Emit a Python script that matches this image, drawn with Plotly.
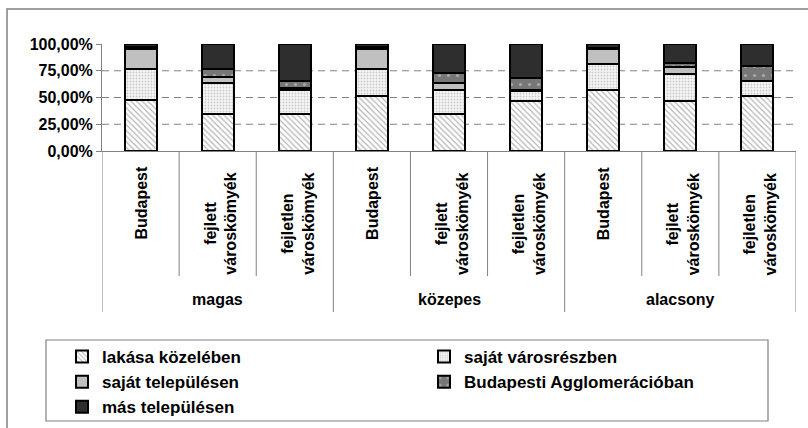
import plotly.graph_objects as go

# ---------------- data ----------------
groups = ["magas", "közepes", "alacsony"]
subcats = ["Budapest", "fejlett<br>városkömyék", "fejletlen<br>városkömyék"]
series_names = ["lakása közelében", "saját városrészben", "saját településen",
                "Budapesti Agglomerációban", "más településen"]

lakasa_kozeleben = [47.4, 35.0, 35.0, 51.4, 35.0, 46.4, 57.4, 46.4, 51.1]
sajat_varosresz  = [29.2, 29.0, 21.7, 25.2, 22.4,  9.8, 24.3, 25.3, 14.0]
sajat_telepules  = [19.1,  5.1,  2.6, 19.1,  6.5,  0.5, 13.4,  6.8,  0.5]
bp_agglomeracio  = [ 1.5,  7.3,  5.8,  1.5,  9.4, 11.5,  1.5,  3.7, 13.6]
mas_telepules    = [ 2.8, 23.6, 34.9,  2.8, 26.7, 31.8,  3.4, 17.8, 20.8]

y_tick_vals = [0, 25, 50, 75, 100]
y_tick_text = ["0,00%", "25,00%", "50,00%", "75,00%", "100,00%"]
grid_vals = [25, 50, 75]

series_values = [lakasa_kozeleben, sajat_varosresz, sajat_telepules,
                 bp_agglomeracio, mas_telepules]

# ---------------- styles ----------------
W, H = 808, 428
FONT = "Arial, Liberation Sans, sans-serif"
GRAY = "#808080"

styles = [
    dict(color="white", pattern=dict(shape="\\", fgcolor="#6a6a6a", bgcolor="white",
                                     size=4, solidity=0.3, fillmode="overlay")),
    dict(color="white", pattern=dict(shape=".", fgcolor="#9a9a9a", bgcolor="#f6f6f6",
                                     size=3, solidity=0.3, fillmode="overlay")),
    dict(color="#c0c0c0"),
    dict(color="#777777", pattern=dict(shape=".", fgcolor="#d8d8d8", bgcolor="#777777",
                                       size=9, solidity=0.1, fillmode="overlay")),
    dict(color="#2e2e2e"),
]

def px_x(v):
    return v / W

def px_y(v):
    return 1 - v / H

n = len(groups) * len(subcats)
xs = list(range(n))

fig = go.Figure()
for name, vals, st in zip(series_names, series_values, styles):
    marker = dict(color=st["color"], line=dict(color="black", width=2))
    if "pattern" in st:
        marker["pattern"] = st["pattern"]
    fig.add_trace(go.Bar(x=xs, y=vals, name=name, marker=marker))

shapes = []
# dashed gridlines
for g in grid_vals:
    shapes.append(dict(type="line", xref="paper", yref="y", x0=px_x(102), x1=px_x(796),
                       y0=g, y1=g, layer="below",
                       line=dict(color=GRAY, width=1, dash="7px,5px")))
# category dividers
for b in range(n + 1):
    long_line = b % len(subcats) == 0
    shapes.append(dict(type="line", xref="x", yref="paper", x0=b - 0.5, x1=b - 0.5,
                       y0=px_y(151), y1=px_y(312 if long_line else 276),
                       line=dict(color=GRAY, width=1)))
# outer chart border
shapes.append(dict(type="rect", xref="paper", yref="paper", x0=px_x(7), x1=1.2,
                   y0=px_y(9), y1=-0.2, line=dict(color=GRAY, width=1.5)))
# legend frame
shapes.append(dict(type="rect", xref="paper", yref="paper", x0=px_x(46), x1=px_x(768),
                   y0=px_y(340), y1=px_y(421), line=dict(color=GRAY, width=1.2),
                   layer="below"))

annotations = []
for i in xs:
    label = subcats[i % len(subcats)]
    two = "<br>" in label
    annotations.append(dict(x=i, xref="x", y=px_y(224 if two else 203), yref="paper",
                            text=label, textangle=-90, showarrow=False,
                            xanchor="center", yanchor="middle", align="center",
                            xshift=3 if two else 0,
                            font=dict(family=FONT, size=16, color="black", weight="bold")))
for gi, g in enumerate(groups):
    annotations.append(dict(x=gi * len(subcats) + 1, xref="x", y=px_y(299), yref="paper",
                            text=g, showarrow=False, xanchor="center", yanchor="middle",
                            font=dict(family=FONT, size=16, color="black", weight="bold")))

fig.update_layout(
    width=W, height=H,
    margin=dict(l=0, r=0, t=0, b=0),
    paper_bgcolor="white", plot_bgcolor="white",
    barmode="stack", bargap=0.585,
    xaxis=dict(domain=[px_x(102), px_x(796)], range=[-0.5, n - 0.5],
               showline=True, linecolor=GRAY, linewidth=1,
               showticklabels=False, ticks="", showgrid=False, zeroline=False,
               automargin=False),
    yaxis=dict(domain=[px_y(151), px_y(44)], range=[0, 100],
               tickvals=y_tick_vals, ticktext=y_tick_text,
               showline=True, linecolor=GRAY, linewidth=1,
               ticks="outside", ticklen=5, tickcolor=GRAY,
               tickfont=dict(family=FONT, size=16, color="black", weight="bold"),
               showgrid=False, zeroline=False, automargin=False),
    legend=dict(orientation="h", x=px_x(62), y=px_y(339), xanchor="left", yanchor="top",
                borderwidth=0, bgcolor="rgba(0,0,0,0)",
                font=dict(family=FONT, size=17, color="black", weight="bold"),
                entrywidth=317, entrywidthmode="pixels", itemwidth=30,
                traceorder="normal", tracegroupgap=0),
    shapes=shapes,
    annotations=annotations,
    showlegend=True,
)

fig.write_html("out.html", config={"displayModeBar": False},
               post_script="document.body.style.margin='0';")
